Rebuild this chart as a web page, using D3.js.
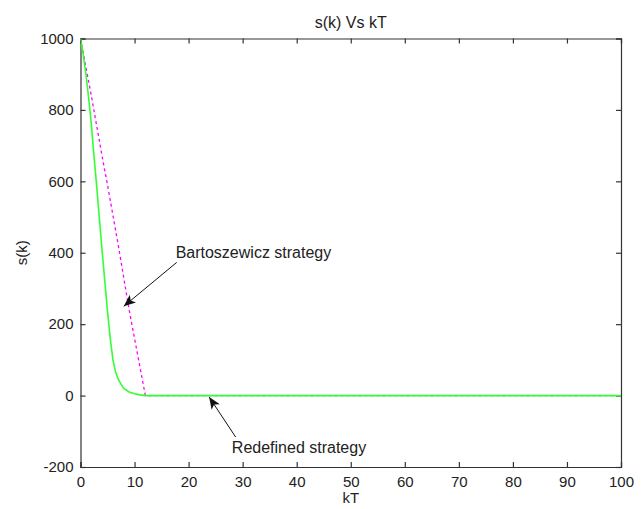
<!DOCTYPE html>
<html>
<head>
<meta charset="utf-8">
<script src="https://cdn.jsdelivr.net/npm/d3@7/dist/d3.min.js"></script>
<style>
  html, body { margin: 0; padding: 0; background: #fff; }
  svg { display: block; }
  text { font-family: "Liberation Sans", Arial, sans-serif; fill: #222; }
</style>
</head>
<body>
<svg id="chart" width="643" height="509"></svg>
<script>
// ---- data ----
const xTicks = [0, 10, 20, 30, 40, 50, 60, 70, 80, 90, 100];
const yTicks = [-200, 0, 200, 400, 600, 800, 1000];

// Redefined strategy (green solid)
const redefinedK = [0, 0.5, 1, 1.5, 2, 2.5, 3, 3.5, 4, 4.5, 5, 5.5, 6, 6.5, 7, 7.5, 8, 9, 10, 11, 12, 100];
const redefinedS = [1000, 955, 900, 835, 760, 670, 585, 495, 405, 320, 235, 160, 100, 65, 45, 32, 20, 10, 5, 2, 0, 0];

// Bartoszewicz strategy (magenta dashed)
const bartK = [0, 1, 2, 3, 4, 5, 6, 7, 8, 9, 10, 11, 12, 100];
const bartS = [1000, 920, 840, 755, 670, 590, 505, 420, 330, 240, 160, 80, 0, 0];

// annotations in data units
const annoText = ["Bartoszewicz strategy", "Redefined strategy"];
const annoTextPos = [[17.6, 401], [28.0, -144]];
const annoTail = [[17.8, 373], [28.7, -116]];
const annoTip = [[8.0, 250], [23.8, -4]];

const title = "s(k) Vs kT";
const xLabel = "kT";
const yLabel = "s(k)";

// ---- layout ----
const svg = d3.select("#chart");
const L = 80.5, R = 621, T = 38.5, B = 467;

const x = d3.scaleLinear().domain([0, 100]).range([L, R]);
const y = d3.scaleLinear().domain([-200, 1000]).range([B, T]);

const axisColor = "#333";
const tickLen = 5;
const fmt = d => String(d);

const gx = svg.append("g").attr("transform", `translate(0,${B})`)
  .call(d3.axisBottom(x).tickValues(xTicks).tickSize(-tickLen).tickPadding(9).tickFormat(fmt));
const gy = svg.append("g").attr("transform", `translate(${L},0)`)
  .call(d3.axisLeft(y).tickValues(yTicks).tickSize(-tickLen).tickPadding(7).tickFormat(fmt));
const gt = svg.append("g").attr("transform", `translate(0,${T})`)
  .call(d3.axisTop(x).tickValues(xTicks).tickSize(-tickLen).tickFormat(""));
const gr = svg.append("g").attr("transform", `translate(${R},0)`)
  .call(d3.axisRight(y).tickValues(yTicks).tickSize(-tickLen).tickFormat(""));

[gx, gy, gt, gr].forEach(g => {
  g.selectAll("path.domain").attr("stroke", axisColor).attr("stroke-width", 1.2);
  g.selectAll(".tick line").attr("stroke", axisColor).attr("stroke-width", 1.2);
  g.selectAll(".tick text").attr("font-size", "15px").attr("fill", "#222")
    .attr("font-family", "'Liberation Sans', Arial, sans-serif");
});

svg.append("clipPath").attr("id", "clip").append("rect")
  .attr("x", L).attr("y", T).attr("width", R - L + 1).attr("height", B - T);

const line = d3.line().x(d => x(d[0])).y(d => y(d[1]));

const bartData = bartK.map((k, i) => [k, bartS[i]]);
const redData = redefinedK.map((k, i) => [k, redefinedS[i]]);

svg.append("path").datum(bartData)
  .attr("d", line).attr("fill", "none")
  .attr("stroke", "#ff00ff").attr("stroke-width", 1.3)
  .attr("stroke-dasharray", "3,3")
  .attr("clip-path", "url(#clip)");

svg.append("path").datum(redData)
  .attr("d", line).attr("fill", "none")
  .attr("stroke", "#33ff33").attr("stroke-width", 1.6)
  .attr("clip-path", "url(#clip)");

const defs = svg.append("defs");
defs.append("marker").attr("id", "arrow")
  .attr("viewBox", "0 0 12 10").attr("refX", 12).attr("refY", 5)
  .attr("markerWidth", 12).attr("markerHeight", 10)
  .attr("markerUnits", "userSpaceOnUse")
  .attr("orient", "auto")
  .append("path").attr("d", "M0,0 L12,5 L0,10 L3,5 Z").attr("fill", "#111");

annoText.forEach((t, i) => {
  svg.append("line")
    .attr("x1", x(annoTail[i][0])).attr("y1", y(annoTail[i][1]))
    .attr("x2", x(annoTip[i][0])).attr("y2", y(annoTip[i][1]))
    .attr("stroke", "#111").attr("stroke-width", 1)
    .attr("marker-end", "url(#arrow)");
  svg.append("text")
    .attr("x", x(annoTextPos[i][0])).attr("y", y(annoTextPos[i][1]))
    .attr("dy", "0.35em").attr("font-size", "16px")
    .text(t);
});

svg.append("text").attr("x", (L + R) / 2).attr("y", 22).attr("dy", "0.35em")
  .attr("text-anchor", "middle").attr("font-size", "16px").text(title);
svg.append("text").attr("x", (L + R) / 2).attr("y", 498).attr("dy", "0.35em")
  .attr("text-anchor", "middle").attr("font-size", "15px").text(xLabel);
svg.append("text").attr("transform", `translate(22,${(T + B) / 2}) rotate(-90)`)
  .attr("dy", "0.35em").attr("text-anchor", "middle").attr("font-size", "15px").text(yLabel);
</script>
</body>
</html>
